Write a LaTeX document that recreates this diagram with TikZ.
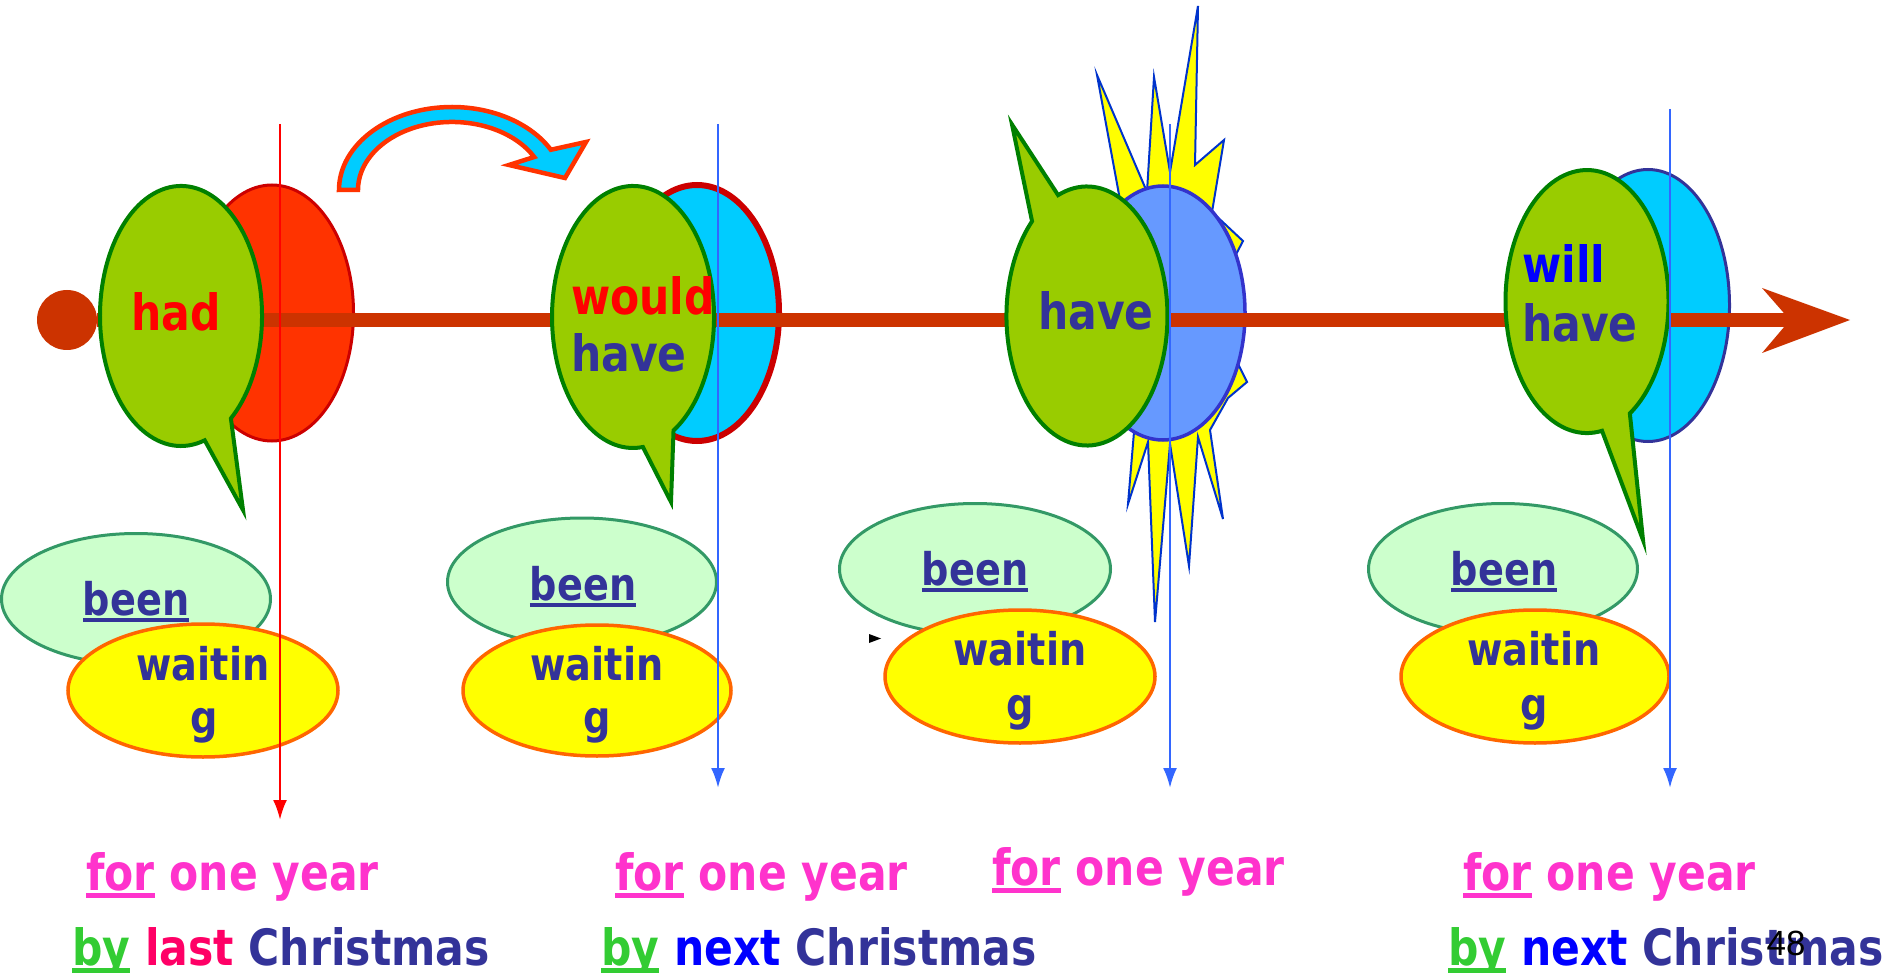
\documentclass[tikz,border=0pt]{standalone}
\usepackage{fontspec}
\setmainfont{DejaVu Sans}[FakeStretch=0.85]
\newfontfamily\pagefont{Liberation Sans}
\usetikzlibrary{arrows.meta}

\definecolor{lineorange}{HTML}{CC3300}
\definecolor{bubblegreen}{HTML}{99CC00}
\definecolor{bubbleedge}{HTML}{008000}
\definecolor{hadred}{HTML}{FF3300}
\definecolor{darkred}{HTML}{CC0000}
\definecolor{skyblue}{HTML}{00CCFF}
\definecolor{periwinkle}{HTML}{6699FF}
\definecolor{ringblue}{HTML}{3333CC}
\definecolor{inkblue}{HTML}{333399}
\definecolor{mint}{HTML}{CCFFCC}
\definecolor{mintedge}{HTML}{339966}
\definecolor{waitfill}{HTML}{FFFF00}
\definecolor{waitedge}{HTML}{FF6600}
\definecolor{tickblue}{HTML}{3366FF}
\definecolor{starblue}{HTML}{0033CC}
\definecolor{forpink}{HTML}{FF33CC}
\definecolor{bygreen}{HTML}{33CC33}
\definecolor{lastred}{HTML}{FF0066}

\newcommand{\ulw}[1]{\setbox0\hbox{#1}\rlap{\rule[-0.15em]{\wd0}{0.09em}}\box0\relax}

\begin{document}
\begin{tikzpicture}[x=1pt, y=-1pt,
    bubble/.style={fill=bubblegreen, draw=bubbleedge, line width=4pt},
    bubbletext/.style={font=\fontsize{50}{60}\selectfont\bfseries, inner sep=0pt},
    ovaltext/.style={font=\fontsize{45}{53}\selectfont\bfseries, inner sep=0pt, text=inkblue, anchor=base},
    foottext/.style={font=\fontsize{50}{60}\selectfont\bfseries, inner sep=0pt, anchor=base west},
    beenoval/.style={fill=mint, draw=mintedge, line width=3pt},
    waitoval/.style={fill=waitfill, draw=waitedge, line width=3.5pt},
    redtick/.style={draw=red, line width=2.5pt, -{Latex[length=20pt,width=14pt]}},
    bluetick/.style={draw=tickblue, line width=2.5pt, -{Latex[length=20pt,width=14pt]}}]
        \useasboundingbox (0,0) rectangle (1882,973);

        % burst behind the present
        \draw[fill=waitfill, draw=starblue, line width=2pt]
            (1097,75) -- (1147,192) -- (1154,77) -- (1170,172) -- (1198,6) -- (1195,165)
            -- (1224,140) -- (1212,212) -- (1243,241) -- (1232,262) -- (1236,360)
            -- (1247,382) -- (1228,398) -- (1210,430) -- (1223,519) -- (1198,437)
            -- (1189,566) -- (1170,444) -- (1155,622) -- (1148,442) -- (1128,504)
            -- (1134,432) -- (1110,400) -- (1110,250) -- (1120,200) -- cycle;

        \draw[fill=hadred, draw=darkred, line width=3pt] (272,313) ellipse [x radius=81.5, y radius=128];
        \draw[fill=skyblue, draw=darkred, line width=6pt] (697,313) ellipse [x radius=82, y radius=128];
        \draw[fill=periwinkle, draw=ringblue, line width=3.5pt] (1163,313) ellipse [x radius=82, y radius=127];
        \draw[fill=skyblue, draw=inkblue, line width=3pt] (1648,305.5) ellipse [x radius=81.5, y radius=136];

        % time line
        \node[circle, fill=lineorange, minimum size=60pt, inner sep=0pt] (dot) at (67,320) {};
        \coordinate (tend) at (1792,320);
        \draw[lineorange, line width=14pt] (dot) -- (tend);
        \fill[lineorange] (1762,288) -- (1850,320) -- (1762,353) -- (1790,320) -- cycle;

        % speech bubbles
        \draw[bubble] (243,510) -- (204.7,440.3) arc[start angle=73, end angle=412, x radius=81, y radius=130] -- cycle;
        \draw[bubble] (671,502) -- (642.9,447) arc[start angle=83, end angle=420, x radius=81, y radius=131] -- cycle;
        \draw[bubble] (1012,124.5) -- (1058.1,195.1) arc[start angle=249, end angle=587, x radius=80.5, y radius=129.5] -- cycle;
        \draw[bubble] (1643,540) -- (1602,430.8) arc[start angle=79.4, end angle=418.3, x radius=81.5, y radius=131.5] -- cycle;

        \node[bubbletext, text=red, anchor=base] (had) at (176,331) {had};
        \node[bubbletext, text=red, anchor=base west] (would) at (571,315) {would};
        \node[bubbletext, text=inkblue, anchor=base west] (wouldhave) at (571,372) {have};
        \node[bubbletext, text=inkblue, anchor=base] (have) at (1096,330) {have};
        \node[bubbletext, text=blue, anchor=base west] (will) at (1522,283) {will};
        \node[bubbletext, text=inkblue, anchor=base west] (willhave) at (1522,342) {have};

        % been / waiting
        \draw[beenoval] (136,599) ellipse [x radius=134.5, y radius=65.5];
        \draw[waitoval] (203,690.5) ellipse [x radius=135, y radius=66.5];
        \draw[beenoval] (582,582) ellipse [x radius=134.5, y radius=64];
        \draw[waitoval] (597,690.5) ellipse [x radius=134, y radius=65.5];
        \draw[beenoval] (975,569) ellipse [x radius=135.5, y radius=65.5];
        \draw[waitoval] (1020,676.5) ellipse [x radius=135, y radius=66.5];
        \draw[beenoval] (1503,569) ellipse [x radius=134.5, y radius=65.5];
        \draw[waitoval] (1535,676.5) ellipse [x radius=134, y radius=66.5];

        \node[ovaltext] (been1) at (136,615) {\ulw{been}};
        \node[ovaltext] (waitin1) at (203,680) {waitin};
        \node[ovaltext] (g1) at (204,733) {g};
        \node[ovaltext] (been2) at (583,600) {\ulw{been}};
        \node[ovaltext] (waitin2) at (597,680) {waitin};
        \node[ovaltext] (g2) at (597,733) {g};
        \node[ovaltext] (been3) at (975,585) {\ulw{been}};
        \node[ovaltext] (waitin3) at (1020,665) {waitin};
        \node[ovaltext] (g3) at (1020,720) {g};
        \node[ovaltext] (been4) at (1504,585) {\ulw{been}};
        \node[ovaltext] (waitin4) at (1534,665) {waitin};
        \node[ovaltext] (g4) at (1534,720) {g};

        \fill (869,634) -- (881,638.5) -- (869,643) -- cycle;

        % back shift arrow
        \draw[fill=skyblue, draw=hadred, line width=4.5pt]
            (339,190) arc[start angle=180, end angle=331, x radius=113, y radius=83]
            -- (586,142) -- (565,178) -- (509,165) -- (534.2,157)
            arc[start angle=331, end angle=180, x radius=94, y radius=68] -- cycle;

        % time marks
        \coordinate (mark1top) at (280,124);
        \coordinate (mark1bot) at (280,820);
        \coordinate (mark2top) at (718,124);
        \coordinate (mark2bot) at (718,788);
        \coordinate (mark3top) at (1170,124);
        \coordinate (mark3bot) at (1170,788);
        \coordinate (mark4top) at (1670,109);
        \coordinate (mark4bot) at (1670,788);
        \draw[redtick] (mark1top) -- (mark1bot);
        \draw[bluetick] (mark2top) -- (mark2bot);
        \draw[bluetick] (mark3top) -- (mark3bot);
        \draw[bluetick] (mark4top) -- (mark4bot);

        % bottom lines
        \node[foottext, text=forpink] (for1) at (86,890) {\ulw{for} one year};
        \node[foottext, text=forpink] (for2) at (615,890) {\ulw{for} one year};
        \node[foottext, text=forpink] (for3) at (992,885) {\ulw{for} one year};
        \node[foottext, text=forpink] (for4) at (1463,890) {\ulw{for} one year};
        \node[foottext] (by1) at (72,965) {\textcolor{bygreen}{\ulw{by}} \textcolor{lastred}{last} \textcolor{inkblue}{Christmas}};
        \node[foottext] (by2) at (601,965) {\textcolor{bygreen}{\ulw{by}} \textcolor{blue}{next} \textcolor{inkblue}{Christmas}};
        \node[foottext] (by4) at (1448,965) {\textcolor{bygreen}{\ulw{by}} \textcolor{blue}{next} \textcolor{inkblue}{Christmas}};

        \node[font=\pagefont\fontsize{35}{40}\selectfont, inner sep=0pt, anchor=base] (pagenum) at (1786,955) {48};
    \end{tikzpicture}
\end{document}
